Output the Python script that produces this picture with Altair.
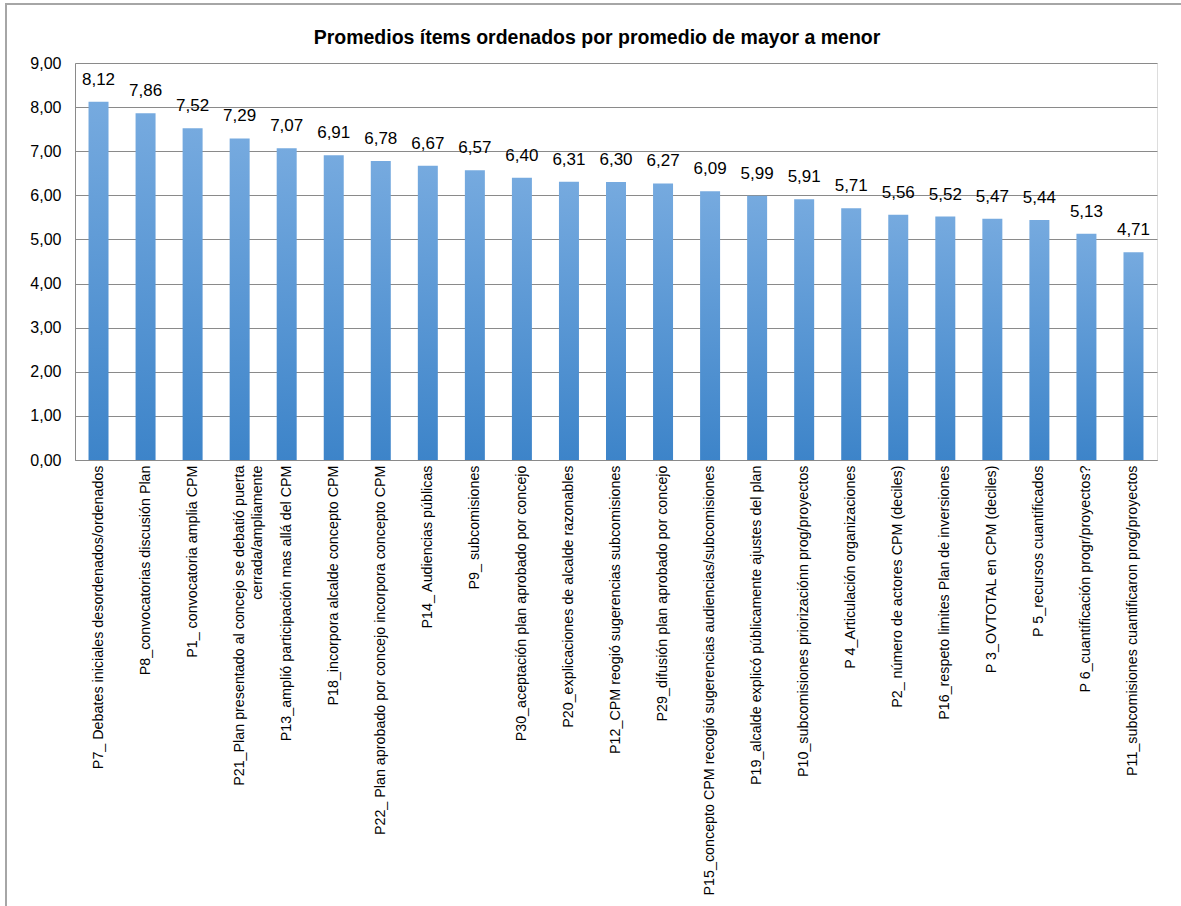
import altair as alt
import pandas as pd

items = [
    "P7_ Debates iniciales desordenados/ordenados",
    "P8_convocatorias discusión Plan",
    "P1_ convocatoria  amplia CPM",
    "P21_Plan  presentado al concejo se debatió puerta|cerrada/ampliamente",
    "P13_amplió participación mas allá del CPM",
    "P18_incorpora alcalde concepto CPM",
    "P22_ Plan aprobado por concejo incorpora concepto CPM",
    "P14_ Audiencias públicas",
    "P9_ subcomisiones",
    "P30_aceptación plan aprobado por concejo",
    "P20_explicaciones  de alcalde razonables",
    "P12_CPM reogió sugerencias subcomisiones",
    "P29_difusión plan aprobado por concejo",
    "P15_concepto CPM recogió sugerencias audiencias/subcomisiones",
    "P19_alcalde explicó públicamente  ajustes del plan",
    "P10_subcomisiones priorizaciónn prog/proyectos",
    "P 4_Articulación organizaciones",
    "P2_ número de actores CPM (deciles)",
    "P16_respeto limites Plan de inversiones",
    "P 3_OVTOTAL  en CPM (deciles)",
    "P 5_recursos cuantificados",
    "P 6_cuantificación progr/proyectos?",
    "P11_subcomisiones  cuantificaron prog/proyectos",
]
promedios = [8.12, 7.86, 7.52, 7.29, 7.07, 6.91, 6.78, 6.67, 6.57, 6.40, 6.31, 6.30,
             6.27, 6.09, 5.99, 5.91, 5.71, 5.56, 5.52, 5.47, 5.44, 5.13, 4.71]
y_ticks = [0, 1, 2, 3, 4, 5, 6, 7, 8, 9]
titulo = "Promedios ítems ordenados  por promedio de mayor a menor"

df = pd.DataFrame({"item": items, "prom": promedios})

FONT = "Liberation Sans"
GRID = "#8a8a8a"
W, H = 1082, 397

x_enc = alt.X("item:N", sort=None,
              scale=alt.Scale(paddingInner=0.575, paddingOuter=0.2875),
              axis=alt.Axis(title=None, labelAngle=-90, ticks=False, domain=True,
                            domainColor=GRID, labelPadding=5, labelLimit=0,
                            labelFont=FONT, labelFontSize=14.3, labelColor="#000000",
                            labelExpr="split(datum.label, '|')", labelLineHeight=18))
y_enc = alt.Y("prom:Q", scale=alt.Scale(domain=[0, 9], nice=False, zero=True),
              axis=alt.Axis(title=None, values=y_ticks, ticks=False, domain=True,
                            domainColor=GRID, grid=True, gridColor=GRID,
                            labelPadding=14, labelFont=FONT, labelFontSize=16,
                            labelColor="#000000",
                            labelExpr="replace(format(datum.value, '.2f'), '.', ',')"))

grad = alt.Gradient(gradient="linear",
                    stops=[alt.GradientStop(color="#76aadf", offset=0),
                           alt.GradientStop(color="#3d84c9", offset=1)],
                    x1=0, x2=0, y1=0, y2=1)

bars = alt.Chart(df).mark_bar(color=grad).encode(x=x_enc, y=y_enc)

labels = alt.Chart(df).transform_calculate(
    lbl="replace(format(datum.prom, '.2f'), '.', ',')"
).mark_text(baseline="bottom", dy=-13, font=FONT, fontSize=17, color="#000000").encode(
    x=alt.X("item:N", sort=None), y="prom:Q", text="lbl:N")

frame = alt.Chart(df).mark_rect(fill=None, stroke="#a6a6a6", strokeWidth=2).encode(
    x=alt.value(-69), x2=alt.value(1140), y=alt.value(-59), y2=alt.value(880))

title_df = pd.DataFrame({"t": [titulo]})
title = alt.Chart(title_df).mark_text(
    font=FONT, fontSize=19.5, fontWeight="bold", color="#000000",
    align="center", baseline="middle").encode(
    x=alt.value(522), y=alt.value(-25), text="t:N")

chart = alt.layer(frame, bars, labels, title).properties(
    width=W, height=H,
    padding={"left": 75, "top": 63, "right": 24, "bottom": 446},
    autosize=alt.AutoSizeParams(type="none"),
).configure_view(stroke=None).configure(background="#ffffff")

chart.save("out.html", embed_options={"renderer": "svg", "actions": False})
